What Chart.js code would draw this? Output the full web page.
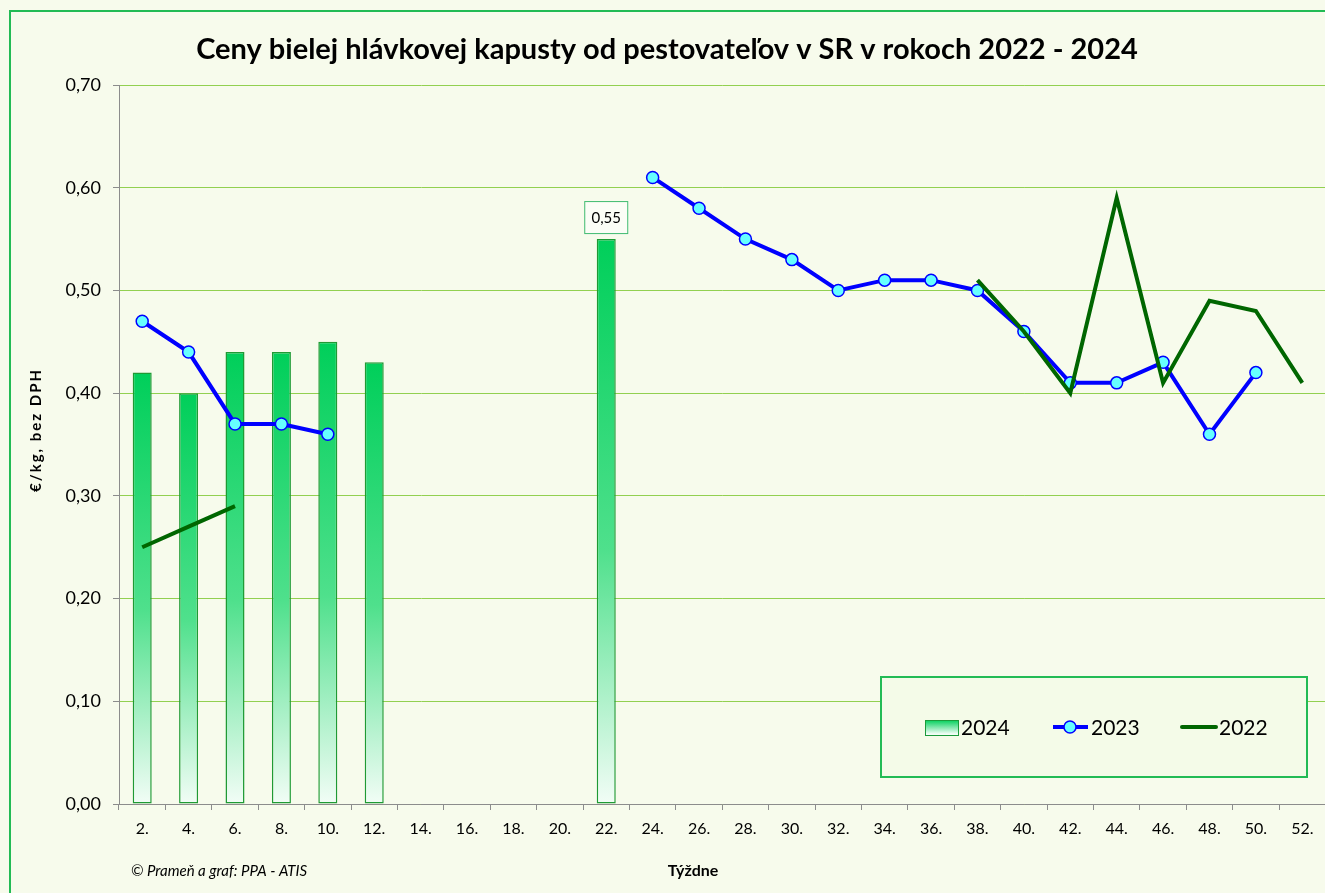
<!DOCTYPE html>
<html>
<head>
    <meta charset="UTF-8">
    <title>Ceny bielej hlávkovej kapusty</title>
    <script src="https://cdn.jsdelivr.net/npm/chart.js@4.4.1/dist/chart.umd.min.js"></script>
    <style>
        html, body { margin: 0; background: #ffffff; overflow: hidden; }
        #wrap { position: relative; width: 1325px; height: 893px; overflow: hidden; }
        canvas { display: block; }
    </style>
</head>
<body>
<div id="wrap">
    <canvas id="cabbageChart" width="1333" height="893"></canvas>
</div>

<script>
    // Data.
    var weeks = ['2.', '4.', '6.', '8.', '10.', '12.', '14.', '16.', '18.', '20.', '22.', '24.', '26.',
                 '28.', '30.', '32.', '34.', '36.', '38.', '40.', '42.', '44.', '46.', '48.', '50.', '52.'];
    var prices2024 = [0.42, 0.40, 0.44, 0.44, 0.45, 0.43, null, null, null, null, 0.55, null, null,
                      null, null, null, null, null, null, null, null, null, null, null, null, null];
    var prices2023 = [0.47, 0.44, 0.37, 0.37, 0.36, null, null, null, null, null, null, 0.61, 0.58,
                      0.55, 0.53, 0.50, 0.51, 0.51, 0.50, 0.46, 0.41, 0.41, 0.43, 0.36, 0.42, null];
    var prices2022 = [0.25, 0.27, 0.29, null, null, null, null, null, null, null, null, null, null,
                      null, null, null, null, null, 0.51, 0.46, 0.40, 0.59, 0.41, 0.49, 0.48, 0.41];
    var labelledWeek = '22.';
    var titleText = 'Ceny bielej hlávkovej kapusty od pestovateľov v SR v rokoch 2022 - 2024';
    var yTitle = '€/kg, bez DPH';
    var xTitle = 'Týždne';
    var sourceText = '© Prameň a graf: PPA - ATIS';

    var FONT = 'Lato, "Open Sans", sans-serif';

    function fmt(v) { return v.toFixed(2).replace('.', ','); }

    function barGradient(context) {
        var chart = context.chart;
        var area = chart.chartArea;
        if (!area || context.raw == null) return '#00cf5a';
        var top = chart.scales.y.getPixelForValue(context.raw);
        var g = chart.ctx.createLinearGradient(0, top, 0, area.bottom);
        g.addColorStop(0, '#00cf5a');
        g.addColorStop(0.55, '#4fe08c');
        g.addColorStop(1, '#f2fdf6');
        return g;
    }

    // Background, frame, title, notes, value label and legend.
    var decorPlugin = {
        id: 'decor',
        beforeDraw: function(chart) {
            var c = chart.ctx;
            c.save();
            c.fillStyle = '#f7fbec';
            c.fillRect(0, 0, chart.width, chart.height);
            c.strokeStyle = '#22bb55';
            c.lineWidth = 2;
            c.strokeRect(10, 11, chart.width + 20, chart.height + 20);
            c.restore();
        },
        afterDraw: function(chart) {
            var c = chart.ctx;
            c.save();
            c.fillStyle = '#000';
            c.textAlign = 'center';
            c.textBaseline = 'middle';
            c.font = 'bold 29px ' + FONT;
            c.fillText(titleText, 667, 50);

            c.font = 'bold 16px ' + FONT;
            c.fillText(xTitle, 693, 871);
            c.save();
            c.translate(36, 430);
            c.rotate(-Math.PI / 2);
            c.font = 'bold 15px ' + FONT;
            c.letterSpacing = '2px';
            c.fillText(yTitle, 0, 0);
            c.restore();

            c.textAlign = 'left';
            c.font = 'italic 15px ' + FONT;
            c.fillText(sourceText, 131, 871);

            // value label above week 22 bar
            var idx = weeks.indexOf(labelledWeek);
            var meta = chart.getDatasetMeta(0);
            var bar = meta.data[idx];
            c.font = '15px ' + FONT;
            c.textAlign = 'center';
            var txt = fmt(prices2024[idx]);
            var bx = bar.x, by = bar.y - 21;
            c.fillStyle = '#fbfdf6';
            c.fillRect(bx - 21, by - 16, 43, 32);
            c.strokeStyle = '#40bb70';
            c.lineWidth = 1;
            c.strokeRect(bx - 21.5, by - 16.5, 43, 32);
            c.fillStyle = '#000';
            c.fillText(txt, bx, by);

            // legend box
            c.fillStyle = '#f4fbe8';
            c.fillRect(881, 677, 426, 100);
            c.strokeStyle = '#22bb55';
            c.lineWidth = 2;
            c.strokeRect(881, 677, 426, 100);

            var ly = 727;
            var sw = c.createLinearGradient(0, ly - 7, 0, ly + 7);
            sw.addColorStop(0, '#00cf5a');
            sw.addColorStop(1, '#f2fdf6');
            c.fillStyle = sw;
            c.fillRect(925, ly - 7, 33, 15);
            c.strokeStyle = '#1a9a3a';
            c.lineWidth = 1;
            c.strokeRect(925.5, ly - 6.5, 33, 15);

            c.strokeStyle = '#0000ff';
            c.lineWidth = 4;
            c.beginPath(); c.moveTo(1053, ly); c.lineTo(1088, ly); c.stroke();
            c.beginPath(); c.arc(1070, ly, 6, 0, Math.PI * 2);
            c.fillStyle = '#66ffff'; c.fill();
            c.lineWidth = 1.5; c.strokeStyle = '#0000ff'; c.stroke();

            c.strokeStyle = '#006600';
            c.lineWidth = 4;
            c.lineCap = 'round';
            c.beginPath(); c.moveTo(1182, ly); c.lineTo(1216, ly); c.stroke();

            c.fillStyle = '#000';
            c.textAlign = 'left';
            c.font = '21px ' + FONT;
            c.fillText('2024', 961, ly + 1);
            c.fillText('2023', 1091, ly + 1);
            c.fillText('2022', 1219, ly + 1);
            c.restore();
        }
    };

    var ctx = document.getElementById('cabbageChart').getContext('2d');
    var chart = new Chart(ctx, {
        data: {
            labels: weeks,
            datasets: [{
                type: 'bar',
                label: '2024',
                data: prices2024,
                backgroundColor: barGradient,
                borderColor: '#1f9a34',
                borderWidth: 1.5,
                borderSkipped: false,
                barPercentage: 0.41,
                categoryPercentage: 1,
                order: 3
            }, {
                type: 'line',
                label: '2023',
                data: prices2023,
                borderColor: '#0000ff',
                borderWidth: 4,
                pointRadius: 6,
                pointBackgroundColor: '#66ffff',
                pointBorderColor: '#0000ff',
                pointBorderWidth: 1.5,
                spanGaps: false,
                tension: 0,
                order: 2
            }, {
                type: 'line',
                label: '2022',
                data: prices2022,
                borderColor: '#006600',
                borderWidth: 4,
                pointRadius: 0,
                spanGaps: false,
                tension: 0,
                order: 1
            }]
        },
        options: {
            responsive: false,
            animation: false,
            layout: { padding: { top: 85, left: 0, right: 0, bottom: 0 } },
            plugins: {
                legend: { display: false },
                tooltip: { enabled: false },
                title: { display: false }
            },
            scales: {
                x: {
                    offset: true,
                    afterFit: function(s) { s.height = 89; },
                    grid: {
                        offset: true,
                        drawOnChartArea: false,
                        drawTicks: true,
                        tickLength: 6,
                        color: '#8c8c8c'
                    },
                    border: { color: '#8c8c8c', width: 1 },
                    ticks: {
                        color: '#000',
                        padding: 9,
                        maxRotation: 0,
                        autoSkip: false,
                        font: { family: FONT, size: 16 }
                    }
                },
                y: {
                    min: 0,
                    max: 0.7,
                    afterFit: function(s) { s.width = 119; },
                    grid: {
                        color: '#92d050',
                        tickColor: '#8c8c8c',
                        tickLength: 6,
                        lineWidth: 1
                    },
                    border: { color: '#8c8c8c', width: 1 },
                    ticks: {
                        stepSize: 0.1,
                        color: '#000',
                        padding: 12,
                        font: { family: FONT, size: 18 },
                        callback: function(v) { return fmt(v); }
                    }
                }
            }
        },
        plugins: [decorPlugin]
    });
</script>
</body>
</html>
